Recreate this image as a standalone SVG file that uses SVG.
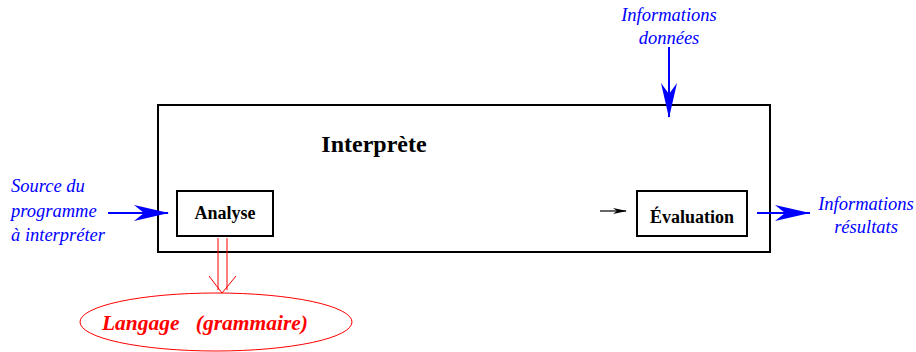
<svg xmlns="http://www.w3.org/2000/svg" width="916" height="352" viewBox="0 0 916 352">
<defs>
<style>
text{font-family:"Liberation Serif","Times New Roman","DejaVu Serif",serif}
.box{fill:#fff;stroke:#000;stroke-width:2}
.lbl{font-weight:bold;fill:#000;text-anchor:middle}
.blue{font-style:italic;fill:#0000ff;font-size:18.5px}
.head{fill:#0000ff}
</style>
</defs>
<g id="interprete">
<rect class="box" x="158" y="105" width="612" height="147"/>
<text class="lbl" x="374" y="152" font-size="24">Interprète</text>
</g>
<g id="analyse">
<rect class="box" x="177" y="191" width="96" height="45"/>
<text class="lbl" x="225" y="219" font-size="18">Analyse</text>
</g>
<g id="evaluation">
<rect class="box" x="637" y="191" width="110" height="45"/>
<text class="lbl" x="692" y="223" font-size="18">Évaluation</text>
</g>
<g id="langage">
<ellipse cx="216" cy="322" rx="136" ry="29" fill="none" stroke="#ff0000" stroke-width="1"/>
<text x="205" y="330" font-weight="bold" font-style="italic" font-size="21.5" fill="#ff0000" text-anchor="middle" xml:space="preserve">Langage   (grammaire)</text>
</g>
<g id="source">
<text class="blue" x="11" y="192">Source du</text>
<text class="blue" x="11" y="217">programme</text>
<text class="blue" x="11" y="241">à interpréter</text>
</g>
<g id="donnees">
<text class="blue" x="669" y="21" text-anchor="middle">Informations</text>
<text class="blue" x="669" y="44" text-anchor="middle">données</text>
</g>
<g id="resultats">
<text class="blue" x="866" y="210" text-anchor="middle">Informations</text>
<text class="blue" x="866" y="233" text-anchor="middle">résultats</text>
</g>
<g id="connectors">
<path d="M669,47 V117" stroke="#0000ff" stroke-width="2"/>
<path class="head" d="M661,83 L669,118 L677,83 L669,94 Z"/>
<path d="M108,213 H168" stroke="#0000ff" stroke-width="2"/>
<path class="head" d="M134,205 L169,213 L134,221 L144,213 Z"/>
<path d="M757,213 H810" stroke="#0000ff" stroke-width="2"/>
<path class="head" d="M775,205 L810,213 L775,221 L785,213 Z"/>
<path d="M600,211 H626" stroke="#000" stroke-width="1.2"/>
<path d="M613,208 L627,211 L613,214 L617,211 Z" fill="#000"/>
<path d="M218,238 V290 M227,238 V290 M209,276 L222,293 L236,276" stroke="#ff0000" stroke-width="1" fill="none"/>
</g>
</svg>
